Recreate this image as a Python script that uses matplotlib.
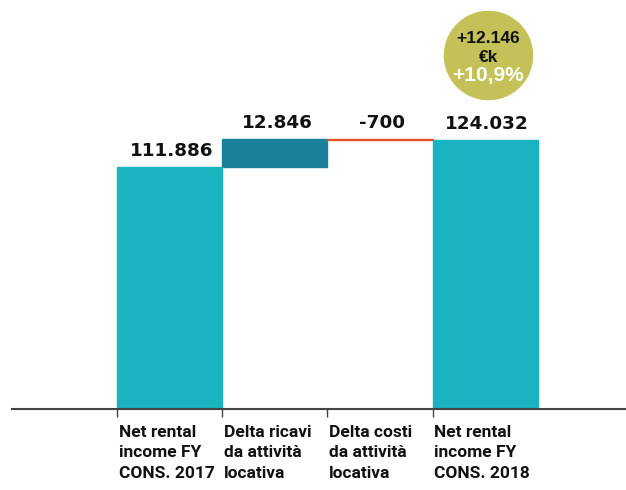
import numpy as np
import matplotlib.pyplot as plt

categories = ["Net rental\nincome FY\nCONS. 2017",
              "Delta ricavi\nda attività\nlocativa",
              "Delta costi\nda attività\nlocativa",
              "Net rental\nincome FY\nCONS. 2018"]
values = [111.886, 12.846, -0.700, 124.032]
value_labels = ["111.886", "12.846", "-700", "124.032"]
is_total = [True, False, False, True]
bar_colors = ["#19b4c0", "#19829a", "#e2522b", "#19b4c0"]

delta_lines = ["+12.146", "€k"]
delta_pct = "+10,9%"

# waterfall bottoms
bottoms = []
running = 0.0
for v, tot in zip(values, is_total):
    if tot:
        bottoms.append(0.0)
        running = v
    else:
        bottoms.append(running)
        running += v

fig = plt.figure(figsize=(6.26, 4.9), dpi=100)
ax = fig.add_axes([12 / 626, 81 / 490, 614 / 626, 409 / 490])

x = np.arange(len(values))
ax.bar(x, values, bottom=bottoms, width=1.0, align="edge", color=bar_colors,
       edgecolor=bar_colors, linewidth=1.0)

for i, (v, b, lab) in enumerate(zip(values, bottoms, value_labels)):
    top = max(b, b + v)
    ax.annotate(lab, (i + 0.5, top), xytext=(1.5, 8), textcoords="offset points",
                ha="center", va="baseline", fontsize=13.2, fontweight="bold",
                family="DejaVu Sans", color="#111111")

ax.set_xlim(-1.0, 4.84)
ax.set_ylim(0, 409 / 2.165)

for s in ["top", "right", "left"]:
    ax.spines[s].set_visible(False)
ax.spines["bottom"].set_color("#444444")
ax.spines["bottom"].set_linewidth(1.5)
ax.spines["bottom"].set_zorder(5)
ax.set_yticks([])
ax.set_xticks(x)
ax.set_xticklabels([])
ax.tick_params(axis="x", length=6, width=1, color="#444444", direction="out")

for i, c in enumerate(categories):
    ax.annotate(c, (i, 0), xytext=(1, -11.5), textcoords="offset points",
                ha="left", va="top", fontsize=12.5, linespacing=1.45,
                family=["Roboto", "DejaVu Sans"], fontweight="bold",
                color="#111111", annotation_clip=False)

# delta bubble
cx, cy = 3.53, 163.5
ax.scatter([cx], [cy], s=4150, color="#c3c157", linewidths=0, zorder=3, clip_on=False)
for dy, line in zip([8.9, -4.8], delta_lines):
    ax.annotate(line, (cx, cy), xytext=(0, dy), textcoords="offset points",
                ha="center", va="baseline", fontsize=12.5, fontweight="bold",
                family=["Liberation Sans", "DejaVu Sans"], color="#111111", zorder=4)
ax.annotate(delta_pct, (cx, cy), xytext=(0, -18.7), textcoords="offset points",
            ha="center", va="baseline", fontsize=15, fontweight="bold",
            family=["Liberation Sans", "DejaVu Sans"], color="white", zorder=4)

fig.savefig("out.png", dpi=100)
